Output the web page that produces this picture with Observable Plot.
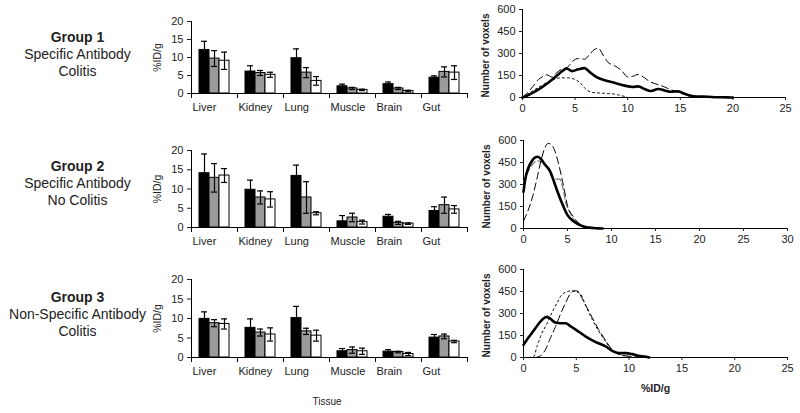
<!DOCTYPE html>
<html><head><meta charset="utf-8">
<script src="https://cdn.jsdelivr.net/npm/d3@7"></script>
<script src="https://cdn.jsdelivr.net/npm/@observablehq/plot@0.6"></script>
<style>
body{margin:0;background:#fff;}
#root{position:relative;width:800px;height:413px;overflow:hidden;font-family:"Liberation Sans",Arial,sans-serif;color:#222;}
.grp{position:absolute;left:0;width:155px;text-align:center;font-size:14px;line-height:17px;}
.tissue{position:absolute;left:287px;width:80px;top:396px;text-align:center;font-size:10px;}
#root svg{position:absolute;}
</style></head><body><div id="root">
<div class="grp" style="top:29px"><b>Group 1</b><br>Specific Antibody<br>Colitis</div>
<div class="grp" style="top:158px"><b>Group 2</b><br>Specific Antibody<br>No Colitis</div>
<div class="grp" style="top:289px"><b>Group 3</b><br>Non-Specific Antibody<br>Colitis</div>
<div class="tissue">Tissue</div>
</div>
<script>
const FONT = '"Liberation Sans", Arial, sans-serif';
const tissues = ["Liver","Kidney","Lung","Muscle","Brain","Gut"];
const barSeries = ["S1","S2","S3"];
const barColors = ["#000000","#9a9a9a","#ffffff"];
const barTicks = [0,5,10,15,20];

// Group 1 bar means / errors per tissue [S1,S2,S3]
const g1Means = [[12.1,9.7,9.1],[6.1,5.7,5.2],[9.8,5.8,3.5],[2.0,1.4,1.0],[2.6,1.4,0.7],[4.4,6.0,5.8]];
const g1Errs  = [[2.4,2.2,2.4],[1.6,0.7,0.7],[2.6,1.4,1.2],[0.6,0.3,0.2],[0.6,0.3,0.2],[0.5,1.4,1.9]];
// Group 2
const g2Means = [[14.1,12.9,13.5],[9.8,7.8,7.3],[13.4,7.8,3.7],[1.6,2.6,1.4],[2.8,1.2,1.0],[4.3,5.8,4.7]];
const g2Errs  = [[5.0,3.7,1.8],[2.5,1.7,2.0],[2.8,4.1,0.4],[1.5,1.1,0.5],[0.6,0.4,0.2],[1.1,2.1,1.0]];
// Group 3
const g3Means = [[9.9,8.8,8.6],[7.6,6.4,5.9],[10.1,6.7,5.6],[1.6,1.9,1.6],[1.5,1.4,0.9],[5.1,5.4,4.1]];
const g3Errs  = [[1.8,0.9,1.3],[2.3,0.9,1.7],[3.0,0.8,1.4],[0.7,0.8,0.8],[0.5,0.2,0.4],[0.8,0.6,0.3]];

// Histograms: [%ID/g, number of voxels]
const g1Solid = [[0,0],[0.6,18],[1.5,53],[2.5,104],[3.4,157],[3.9,187],[4.2,198],[4.7,180],[5.3,192],[5.9,200],[6.4,173],[7.0,141],[7.8,118],[8.8,99],[9.7,81],[10.5,72],[11.0,76],[11.6,58],[12.2,44],[12.9,58],[13.5,48],[14.1,39],[14.8,42],[15.4,25],[16.0,12],[16.6,7],[17.6,5],[18.5,2],[19.5,1],[20,0]];
const g1Dash = [[0,0],[0.6,42],[1.0,76],[1.5,122],[2.0,145],[2.3,155],[2.8,139],[3.25,169],[3.7,192],[4.3,208],[4.8,249],[5.3,266],[5.9,261],[6.4,296],[6.9,330],[7.2,335],[7.7,284],[8.1,242],[8.8,215],[9.4,185],[10.0,141],[10.5,145],[11.0,157],[11.6,134],[12.2,104],[12.9,88],[13.5,72],[14.1,53],[14.8,39],[15.4,25],[15.9,7],[16.2,0]];
const g1Dot = [[0,0],[0.9,42],[1.8,81],[2.8,118],[3.7,134],[4.3,134],[5.0,122],[5.5,99],[5.9,65],[6.6,35],[7.5,30],[8.5,25],[9.1,18],[9.7,7],[10,0]];

const g2Solid = [[0,250],[0.2,336],[0.5,405],[0.9,455],[1.25,482],[1.6,489],[2.0,473],[2.4,439],[3.0,393],[3.5,314],[3.9,245],[4.5,155],[5.0,91],[5.8,45],[6.6,18],[7.3,7],[8.4,1],[9.0,0]];
const g2Dash = [[0,52],[0.5,120],[1.06,223],[1.6,359],[2.0,466],[2.4,545],[2.8,580],[3.1,575],[3.5,539],[3.9,461],[4.3,359],[4.7,245],[5.0,155],[5.6,86],[6.2,41],[6.9,14],[7.7,2],[8.3,0]];
const g2Gray = [[0,313],[0.9,427],[1.6,461],[2.2,450],[2.8,405],[3.3,348],[3.7,336],[4.1,336],[4.5,268],[4.8,177],[5.2,120],[5.8,52],[6.9,18],[8.1,7],[8.6,0]];

const g3Solid = [[0,86],[0.47,136],[0.95,182],[1.4,227],[1.9,266],[2.2,277],[2.5,266],[3.0,239],[3.5,234],[4.0,234],[4.4,216],[5.1,182],[5.9,143],[6.8,107],[7.8,75],[8.4,45],[9.0,30],[9.7,30],[10.3,23],[10.9,11],[11.6,5],[11.9,0]];
const g3Dot = [[0.5,0],[0.95,5],[1.3,80],[1.7,159],[2.2,227],[2.7,307],[3.2,375],[3.6,425],[4.1,448],[4.6,455],[4.9,450],[5.4,432],[5.9,352],[6.5,261],[7.1,182],[7.8,107],[8.4,45],[9.0,23],[9.7,7],[10.3,0]];
const g3Dash = [[1.1,0],[1.6,11],[2.1,57],[2.5,125],[3.0,205],[3.5,295],[4.0,375],[4.4,432],[4.9,455],[5.2,450],[5.5,409],[6.0,341],[6.5,273],[7.1,193],[7.8,114],[8.4,52],[9.0,23],[9.7,11],[10.3,7],[10.9,2],[11.9,0],[12.2,0]];

const voxelTicks = [0,150,300,450,600];
const xTicks25 = [0,5,10,15,20,25];
const xTicks30 = [0,5,10,15,20,25,30];

const root = document.getElementById("root");
function place(svg, left, top) {
  svg.style.left = left + "px";
  svg.style.top = top + "px";
  root.appendChild(svg);
}

function barChart(means, errs, top, plotH) {
  const rows = tissues.flatMap((t, i) => barSeries.map((s, j) => ({tissue: t, series: s, mean: means[i][j], err: errs[i][j]})));
  const mt = 21, mb = 27;
  const svg = Plot.plot({
    width: 335, height: mt + plotH + mb,
    marginLeft: 49, marginRight: 6, marginTop: mt, marginBottom: mb,
    style: {fontFamily: FONT, fontSize: "11px", color: "#222", background: "none", overflow: "visible"},
    fx: {domain: tissues, padding: 0},
    x: {domain: barSeries, paddingInner: 0, paddingOuter: 0.72, axis: null},
    y: {domain: [0, 20]},
    color: {domain: barSeries, range: barColors},
    marks: [
      Plot.barY(rows, {fx: "tissue", x: "series", y: "mean", fill: "series", stroke: "#000", strokeWidth: 1}),
      Plot.ruleX(rows, {fx: "tissue", x: "series", y1: d => d.mean - d.err, y2: d => d.mean + d.err, stroke: "#000", strokeWidth: 1.2}),
      Plot.tickY(rows, {fx: "tissue", x: "series", y: d => d.mean + d.err, insetLeft: 2, insetRight: 2, stroke: "#000", strokeWidth: 1.2}),
      Plot.tickY(rows, {fx: "tissue", x: "series", y: d => d.mean - d.err, insetLeft: 2, insetRight: 2, stroke: "#000", strokeWidth: 1.2}),
      Plot.frame({anchor: "bottom", stroke: "#000"}),
      Plot.frame({anchor: "left", facetAnchor: "left", stroke: "#000"}),
      Plot.frame({anchor: "left", insetTop: plotH, insetBottom: -4, stroke: "#000"}),
      Plot.frame({anchor: "right", insetTop: plotH, insetBottom: -4, stroke: "#000"}),
      Plot.axisY({ticks: barTicks, tickSize: 4, tickPadding: 4, label: null}),
      Plot.axisFx({anchor: "bottom", tickSize: 0, tickPadding: 10, textAnchor: "start", dx: -22, label: null}),
      Plot.text(["%ID/g"], {frameAnchor: "left", textAnchor: "middle", rotate: -90, dx: -34, facetAnchor: "left", fill: "#222", fontSize: 10.5})
    ]
  });
  place(svg, 140, top);
}

function lineChart(lines, styles, xMax, ticks, top, ml, mr, mb, xLabel) {
  const mt = 9, plotH = 88;
  const marks = [
    Plot.ruleY([0], {stroke: "#000"}),
    Plot.ruleX([0], {stroke: "#000"}),
    Plot.axisY({ticks: voxelTicks, tickSize: 3, tickPadding: 4, label: null}),
    Plot.axisX({ticks: ticks, tickSize: 3, tickPadding: 4, label: null}),
    ...lines.map((pts, k) => Plot.line(pts, {x: d => d[0], y: d => d[1], curve: "monotone-x", ...styles[k]})),
    Plot.text(["Number of voxels"], {frameAnchor: "left", textAnchor: "middle", rotate: -90, dx: -37, dy: 2, fontWeight: "bold", fontSize: 10, fill: "#222"})
  ];
  if (xLabel) marks.push(Plot.text([xLabel], {frameAnchor: "bottom", dy: 34, fontWeight: "bold", fontSize: 10.5, fill: "#222"}));
  const svg = Plot.plot({
    width: 325, height: mt + plotH + mb,
    marginLeft: ml, marginRight: mr, marginTop: mt, marginBottom: mb,
    style: {fontFamily: FONT, fontSize: "11px", color: "#222", background: "none", overflow: "visible"},
    x: {domain: [0, xMax]},
    y: {domain: [0, 600]},
    marks
  });
  place(svg, 470, top);
}

const solidStyle = {stroke: "#000", strokeWidth: 2.6};
const dashStyle = {stroke: "#000", strokeWidth: 1, strokeDasharray: "7,4"};
const dotStyle = {stroke: "#000", strokeWidth: 1, strokeDasharray: "2,3"};
const grayDashStyle = {stroke: "#777", strokeWidth: 1.2, strokeDasharray: "6,3"};

barChart(g1Means, g1Errs, 0, 72);
barChart(g2Means, g2Errs, 129, 77);
barChart(g3Means, g3Errs, 258, 78);

lineChart([g1Dot, g1Dash, g1Solid], [dotStyle, dashStyle, solidStyle], 25, xTicks25, 0, 52, 10, 25, null);
lineChart([g2Gray, g2Dash, g2Solid], [grayDashStyle, dashStyle, solidStyle], 30, xTicks30, 131, 53, 8, 25, null);
lineChart([g3Dot, g3Dash, g3Solid], [dotStyle, dashStyle, solidStyle], 25, xTicks25, 260, 53, 8, 40, "%ID/g");
</script></body></html>
